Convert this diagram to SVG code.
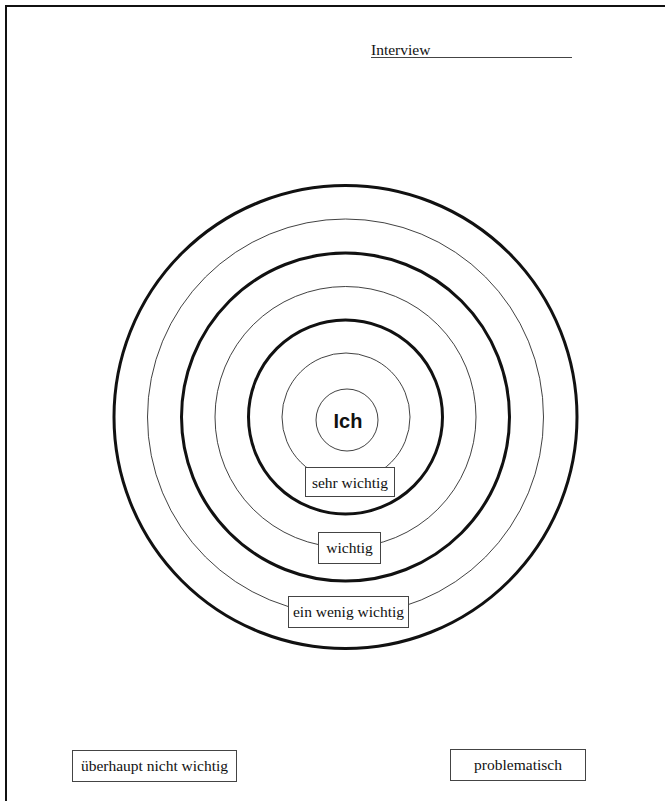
<svg xmlns="http://www.w3.org/2000/svg" width="665" height="801" viewBox="0 0 665 801">
<style>
.thick{fill:none;stroke:#111;stroke-width:3}
.thin{fill:none;stroke:#111;stroke-width:0.8}
.box{fill:#fff;stroke:#444;stroke-width:1}
.lbl{font-family:"Liberation Serif",serif;font-size:15.5px;fill:#111;text-anchor:middle}
</style>
<rect width="665" height="801" fill="#fff"/>
<path d="M6,801 V6 H665" fill="none" stroke="#111" stroke-width="2"/>
<g id="header">
<text x="371" y="55" font-family="Liberation Serif, serif" font-size="15.5" fill="#111">Interview</text>
<line x1="371" y1="57.5" x2="572" y2="57.5" stroke="#444" stroke-width="1"/>
</g>
<g id="rings">
<circle class="thick" cx="345.5" cy="417" r="231.5"/>
<circle class="thin" cx="345.5" cy="417" r="198"/>
<circle class="thick" cx="345.5" cy="417" r="164"/>
<circle class="thin" cx="345.5" cy="417" r="130.5"/>
<circle class="thick" cx="345.5" cy="417" r="97"/>
<circle class="thin" cx="346" cy="417" r="64"/>
</g>
<g id="ich">
<circle class="thin" cx="347" cy="420" r="31"/>
<text x="348" y="428" font-family="Liberation Sans, Arial, sans-serif" font-size="20" font-weight="bold" text-anchor="middle" fill="#111">Ich</text>
</g>
<g id="sehr-wichtig">
<rect class="box" x="305.5" y="467.5" width="89" height="29"/>
<text class="lbl" x="350" y="487.5">sehr wichtig</text>
</g>
<g id="wichtig">
<rect class="box" x="318.5" y="532.5" width="62" height="31"/>
<text class="lbl" x="349.5" y="553">wichtig</text>
</g>
<g id="ein-wenig-wichtig">
<rect class="box" x="288.5" y="596.5" width="120" height="31"/>
<text class="lbl" x="348.5" y="617">ein wenig wichtig</text>
</g>
<g id="ueberhaupt-nicht-wichtig">
<rect class="box" x="72.5" y="750.5" width="164" height="31"/>
<text class="lbl" x="154.5" y="771">überhaupt nicht wichtig</text>
</g>
<g id="problematisch">
<rect class="box" x="450.5" y="749.5" width="135" height="31"/>
<text class="lbl" x="518" y="770">problematisch</text>
</g>
</svg>
